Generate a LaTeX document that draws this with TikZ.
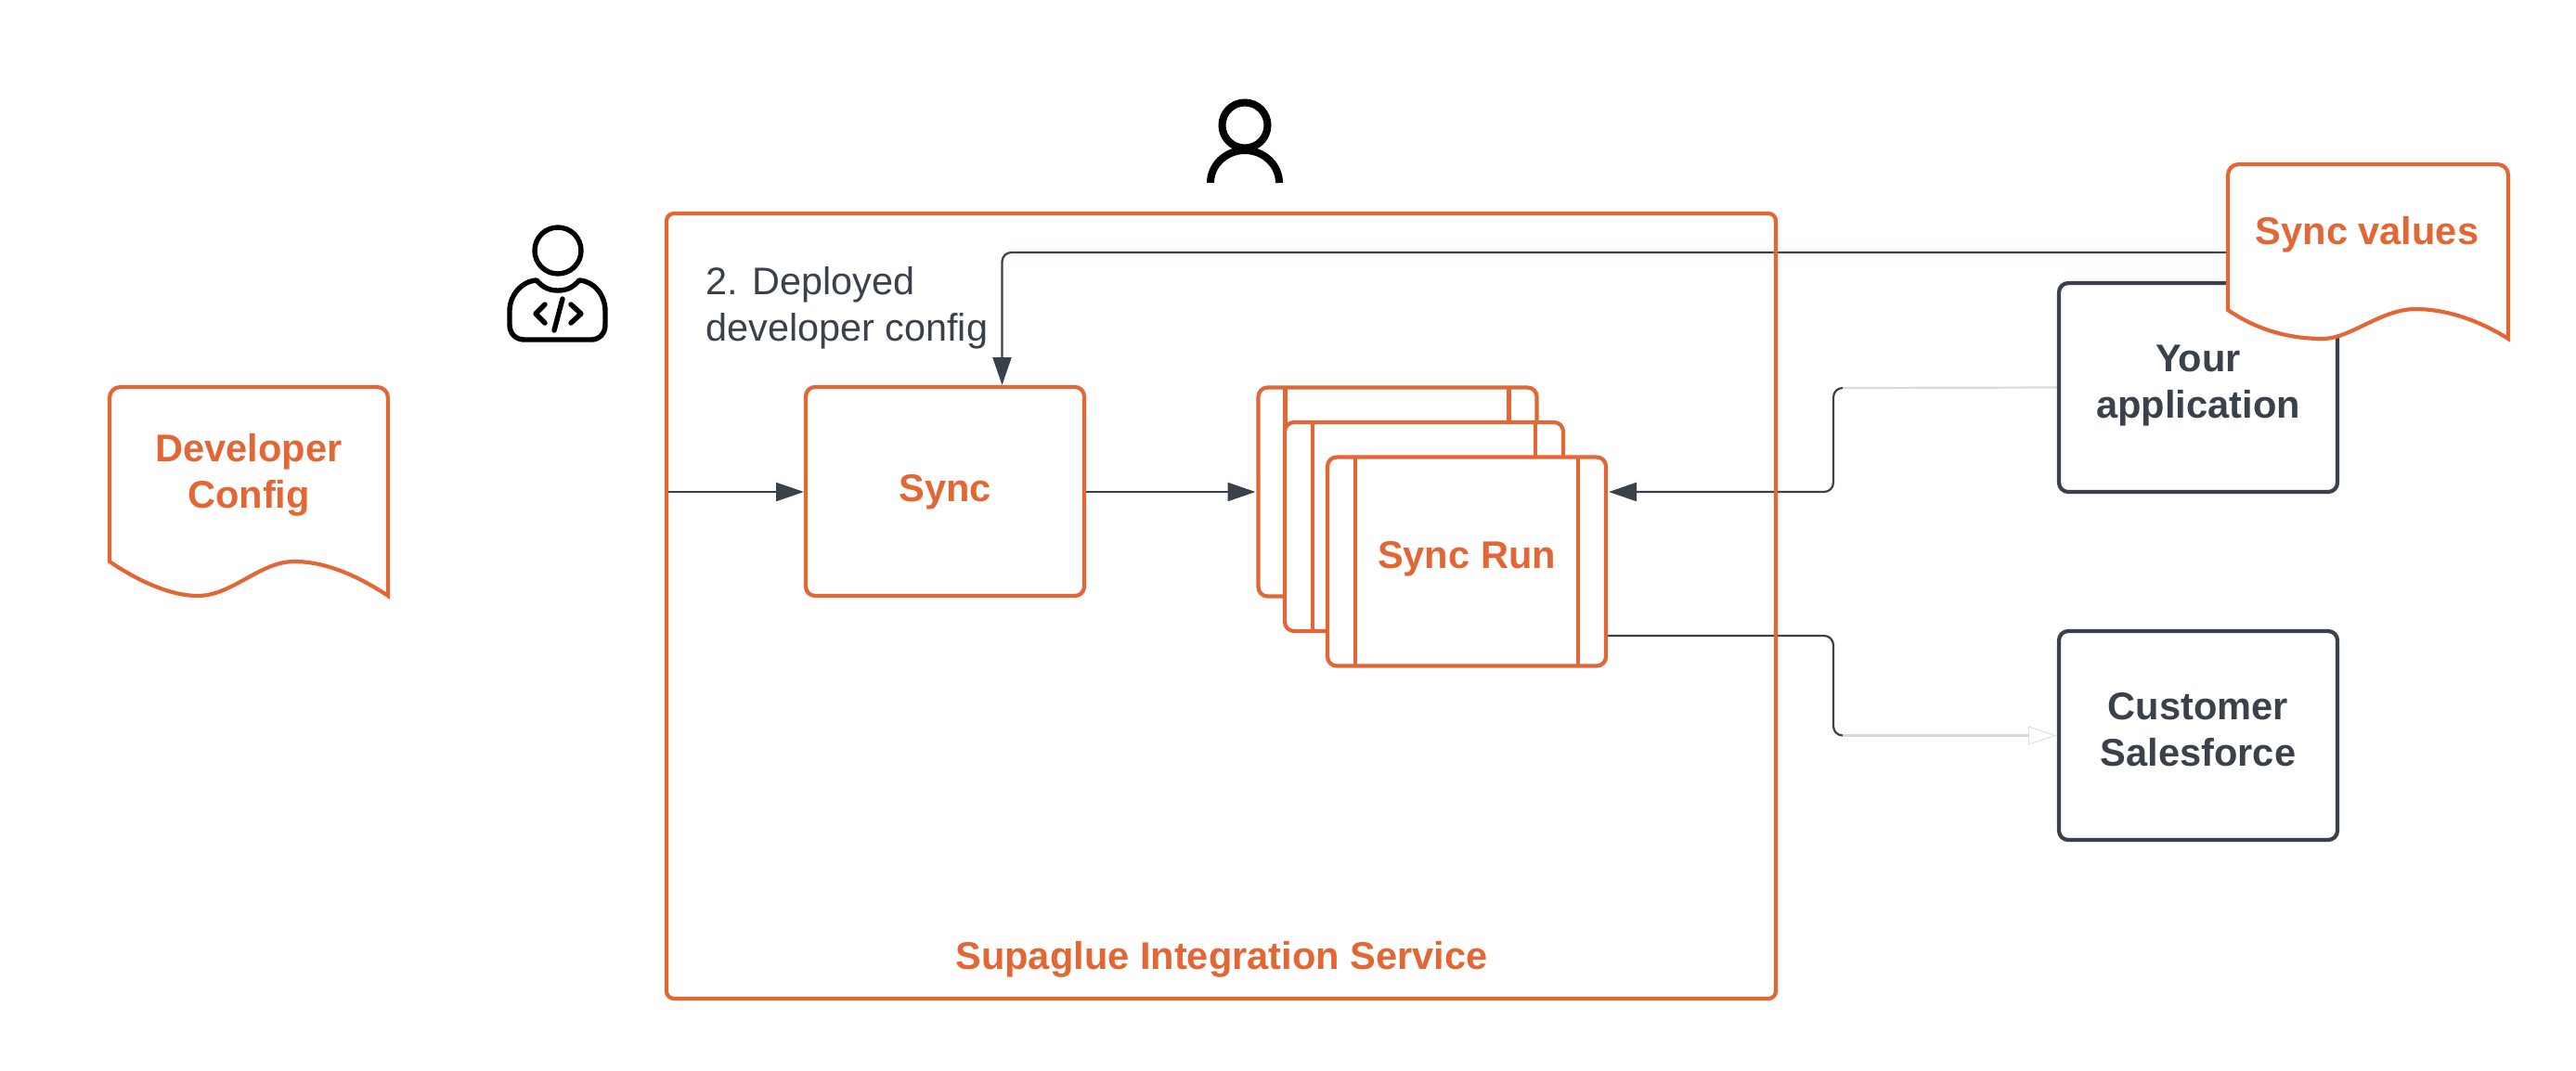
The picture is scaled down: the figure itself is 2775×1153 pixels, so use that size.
\documentclass[tikz,border=0pt]{standalone}
\usepackage{fontspec}
\setmainfont{Liberation Sans}
\usetikzlibrary{arrows.meta,backgrounds,calc}
\definecolor{orangeline}{HTML}{E36735}
\definecolor{darkline}{HTML}{3A414A}
\definecolor{paleline}{HTML}{DADADA}
\tikzset{
  obox/.style={draw=orangeline,line width=2.1pt,fill=white,rounded corners=5pt,inner sep=0pt,outer sep=0pt},
  dbox/.style={draw=darkline,line width=2.1pt,fill=white,rounded corners=5pt,inner sep=0pt,outer sep=0pt,minimum width=150pt,minimum height=112.5pt},
  innerline/.style={draw=orangeline,line width=2.1pt},
  doc/.style={draw=orangeline,line width=2.1pt,fill=white,line join=miter},
  olabel/.style={text=orangeline,font=\fontsize{20.8pt}{25pt}\selectfont\bfseries,anchor=base,align=center,inner sep=0pt},
  dlabel/.style={text=darkline,font=\fontsize{20.8pt}{25pt}\selectfont\bfseries,anchor=base,align=center,inner sep=0pt},
  plainlabel/.style={text=darkline,font=\fontsize{20.7pt}{25pt}\selectfont,anchor=base west,inner sep=0pt},
  conn/.style={draw=darkline,line width=1.1pt,rounded corners=5pt},
  pale/.style={draw=paleline,line width=1.1pt},
  tip/.style={-{Triangle[length=15pt,width=10pt,fill=darkline]}},
  paletip/.style={-{Triangle[open,length=15pt,width=10pt,fill=white,line width=0.4pt]}},
  icon/.style={draw=black,line width=2.7pt,line cap=round,line join=round},
}
\begin{document}
\begin{tikzpicture}[x=0.5pt,y=-0.5pt]
\useasboundingbox (0,0) rectangle (2775,1153);
\begin{pgfonlayer}{background}
\fill[white] (0,0) rectangle (2775,1153);
\end{pgfonlayer}

% Integration service frame
\node[obox,fill=none,minimum width=597.5pt,minimum height=423pt,rounded corners=4pt] (service) at (1315.5,653) {};
\node[olabel] (servicelabel) at (1316,1044) {Supaglue Integration Service};

% Sync
\node[obox,minimum width=150pt,minimum height=112.5pt] (sync) at (1018,529.5) {};
\node[olabel] (synclabel) at (1018,540) {Sync};

% Sync run stack
\node[obox,minimum width=150pt,minimum height=112.5pt] (runa) at (1505.5,530) {};
\draw[innerline] (runa.north west) ++(29,0) -- ++(0,225);
\draw[innerline] (runa.north east) ++(-30,0) -- ++(0,225);
\node[obox,minimum width=150pt,minimum height=112.5pt] (runb) at (1534,567.5) {};
\draw[innerline] (runb.north west) ++(30,0) -- ++(0,225);
\draw[innerline] (runb.north east) ++(-30,0) -- ++(0,225);
\node[obox,minimum width=150pt,minimum height=112.5pt] (runc) at (1580,605) {};
\draw[innerline] (runc.north west) ++(30,0) -- ++(0,225);
\draw[innerline] (runc.north east) ++(-30,0) -- ++(0,225);
\node[olabel] (runlabel) at (1580,612) {Sync Run};

% Right boxes
\node[dbox] (yourapp) at (2368,417.5) {};
\node[dlabel,anchor=base] (yourlabel) at (2368,400) {Your};
\node[dlabel,anchor=base] (yourlabelb) at (2368,450) {application};
\node[dbox] (customer) at (2368,792.5) {};
\node[dlabel] (customerlabel) at (2368,775) {Customer};
\node[dlabel] (customerlabelb) at (2368,825) {Salesforce};

% Documents
\draw[doc] (118,605) -- (118,429) .. controls (118,422) and (123,417) .. (130,417)
  -- (406,417) .. controls (413,417) and (418,422) .. (418,429) -- (418,642)
  .. controls (385,620) and (350,605) .. (317,605)
  .. controls (280,605) and (250,642) .. (213,642)
  .. controls (185,642) and (150,627) .. (118,605) -- cycle;
\node[olabel] (devlabel) at (268,497) {Developer};
\node[olabel] (devlabelb) at (268,547) {Config};
\begin{scope}[shift={(2282,-240)}]
\draw[doc] (118,574) -- (118,429) .. controls (118,422) and (123,417) .. (130,417)
  -- (408,417) .. controls (415,417) and (420,422) .. (420,429) -- (420,605)
  .. controls (385,583) and (350,573) .. (320,573)
  .. controls (283,573) and (250,605) .. (220,605)
  .. controls (185,605) and (150,596) .. (118,574) -- cycle;
\end{scope}
\node[olabel] (valueslabel) at (2550,263) {Sync values};

% Free text
\node[plainlabel] (deployeda) at (760,317) {2. Deployed};
\node[plainlabel] (deployedb) at (760,367) {developer config};

% Person icon
\draw[black,line width=4pt] (1341,135) circle[radius=24.5];
\draw[black,line width=4pt] (1304,197) arc[start angle=180,end angle=360,x radius=37,y radius=35];

% Developer icon
\draw[icon] (601,270) circle[radius=25];
\draw[icon] (578,302) .. controls (585,310) and (592,313) .. (601,313)
  .. controls (610,313) and (617,310) .. (624,302)
  .. controls (640,303) and (652,318) .. (652,335) -- (652,350)
  .. controls (652,360) and (645,366) .. (637,366) -- (565,366)
  .. controls (556,366) and (549,360) .. (549,350) -- (549,335)
  .. controls (549,318) and (562,303) .. (578,302) -- cycle;
\draw[icon] (587,328) -- (577,338) -- (587,348);
\draw[icon] (615,328) -- (626,338) -- (615,348);
\draw[icon] (606,322) -- (597,356);

% Connectors
\coordinate (servicein) at (service.west |- runa.west);
\coordinate (syncout) at (sync.east |- runa.west);
\coordinate (syncleft) at (sync.west |- runa.west);
\coordinate (valuesout) at (2400,272);
\coordinate (syncin) at (1079.5,415);
\coordinate (runinright) at (1733,530);
\coordinate (runout) at (1730,685);
\coordinate (bendtop) at (1985,418);
\coordinate (bendbottom) at (1985,792.5);
\coordinate (customerin) at (2215,792.5);
\begin{pgfonlayer}{background}
\draw[conn,tip] (servicein) -- ($(syncleft)+(-2,0)$);
\draw[conn,tip] (syncout) -- ($(runa.west)+(-3,0)$);
\draw[conn,tip] (valuesout) -- (1079.5,272) -- (syncin);
\draw[pale] (yourapp.west) -- (bendtop);
\draw[conn,tip] (bendtop) -- (1975,418) -- (1975,530) -- (runinright);
\draw[conn] (runout) -- (1975,685) -- (1975,792.5) -- (bendbottom);
\draw[pale,paletip] (bendbottom) -- (customerin);
\end{pgfonlayer}
\end{tikzpicture}
\end{document}
